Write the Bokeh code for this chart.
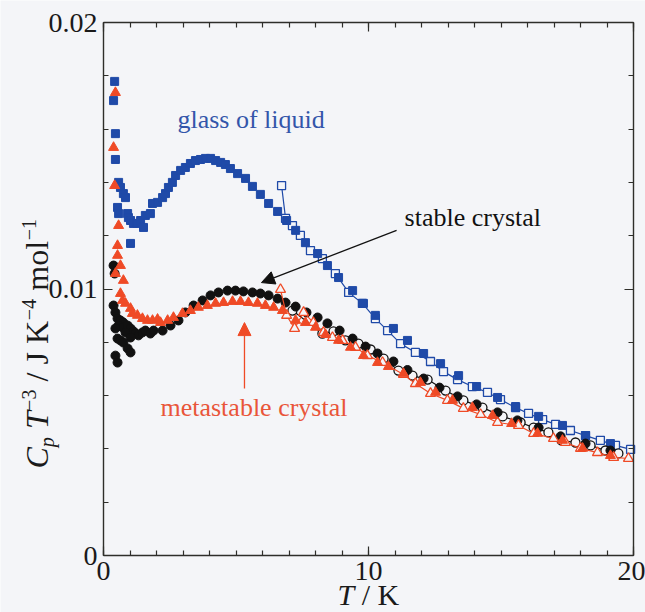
import math
from bokeh.plotting import figure
from bokeh.models import (Range1d, FixedTicker, LinearAxis, Label, Arrow, NormalHead,
                          CustomJSTickFormatter)
from bokeh.embed import file_html
from bokeh.resources import INLINE

# ---------------- data ----------------
glass_filled_T = [0.42, 0.38, 0.45, 0.45, 0.57, 0.64, 0.75, 0.83, 0.53, 0.57,
                  0.91, 0.94, 1.02, 1.13, 1.28, 1.40, 1.51, 1.02, 1.58, 1.77,
                  1.85, 2.04, 2.23, 2.34, 2.45, 2.60, 2.72, 2.91, 3.09, 3.28,
                  3.47, 3.66, 3.85, 4.04, 4.23, 4.42, 4.60, 4.79, 5.06, 5.36,
                  5.62, 5.92, 6.23, 6.57, 6.91, 7.25, 7.62, 8.08, 8.45, 8.87,
                  9.40, 9.81, 10.26, 10.94, 11.47, 12.08, 12.72, 13.40, 14.08, 14.87,
                  15.55, 16.42, 17.32, 18.19, 19.13]
glass_filled_C = [0.01779, 0.01707, 0.01583, 0.01486, 0.01400, 0.01381, 0.01358, 0.01343, 0.01306, 0.01283,
                  0.01283, 0.01268, 0.01257, 0.01246, 0.01246, 0.01257, 0.01231, 0.01171, 0.01276, 0.01283,
                  0.01321, 0.01325, 0.01343, 0.01358, 0.01381, 0.01400, 0.01426, 0.01445, 0.01456, 0.01471,
                  0.01482, 0.01486, 0.01490, 0.01490, 0.01482, 0.01475, 0.01467, 0.01452, 0.01433, 0.01415,
                  0.01385, 0.01355, 0.01321, 0.01291, 0.01257, 0.01220, 0.01174, 0.01133, 0.01088, 0.01043,
                  0.00994, 0.00946, 0.00901, 0.00852, 0.00807, 0.00758, 0.00720, 0.00675, 0.00634, 0.00593,
                  0.00559, 0.00522, 0.00488, 0.00450, 0.00420]

glass_open_T = [6.72, 6.87, 7.13, 7.43, 7.81, 8.26, 8.75, 9.25, 9.77, 10.26,
                10.72, 11.21, 11.77, 12.34, 12.83, 13.36, 13.92, 14.49, 14.98, 15.55,
                16.04, 16.57, 17.06, 17.62, 18.19, 18.75, 19.32, 19.89]
glass_open_C = [0.01388, 0.01265, 0.01238, 0.01201, 0.01144, 0.01114, 0.01058, 0.00987, 0.00946, 0.00889,
                0.00844, 0.00795, 0.00762, 0.00728, 0.00690, 0.00660, 0.00634, 0.00612, 0.00585, 0.00555,
                0.00533, 0.00510, 0.00492, 0.00469, 0.00450, 0.00432, 0.00413, 0.00398]

stable_filled_T = [0.38, 0.42, 0.38, 0.45, 0.53, 0.64, 0.75, 0.57, 0.72, 0.91,
                   1.02, 1.13, 1.21, 1.32, 1.47, 1.58, 1.77, 1.89, 0.45, 0.83,
                   1.02, 0.53, 0.64, 0.75, 0.91, 1.02, 0.45, 0.53,
                   2.23, 2.53, 2.83, 3.09, 3.40, 3.74, 4.04, 4.34, 4.68, 4.98,
                   5.28, 5.62, 5.92, 6.23, 6.57, 6.87, 7.25, 7.66, 8.08, 8.45,
                   8.91, 9.40, 9.89, 10.34, 10.94, 11.47, 12.08, 12.68, 13.36, 14.08,
                   14.87, 15.62, 16.42, 17.25, 18.19, 19.13]
stable_filled_C = [0.01088, 0.01058, 0.00938, 0.00912, 0.00889, 0.00882, 0.00874, 0.00863, 0.00856, 0.00863,
                   0.00852, 0.00841, 0.00833, 0.00826, 0.00837, 0.00844, 0.00833, 0.00844, 0.00852, 0.00837,
                   0.00818, 0.00814, 0.00807, 0.00799, 0.00777, 0.00762, 0.00750, 0.00724,
                   0.00844, 0.00863, 0.00882, 0.00912, 0.00938, 0.00957, 0.00976, 0.00987, 0.00994, 0.00994,
                   0.00991, 0.00987, 0.00983, 0.00976, 0.00964, 0.00949, 0.00934, 0.00912, 0.00893, 0.00871,
                   0.00844, 0.00814, 0.00784, 0.00758, 0.00728, 0.00696, 0.00664, 0.00630, 0.00597, 0.00567,
                   0.00537, 0.00507, 0.00480, 0.00447, 0.00420, 0.00394]

stable_open_T = [7.13, 8.26, 8.68, 9.13, 9.62, 10.08, 10.57, 11.13, 11.66, 12.23,
                 12.91, 13.58, 14.30, 15.06, 15.74, 16.23, 16.79, 17.28, 17.81, 18.38,
                 18.94, 19.43]
stable_open_C = [0.00919, 0.00833, 0.00841, 0.00807, 0.00795, 0.00773, 0.00739, 0.00694, 0.00675, 0.00660,
                 0.00619, 0.00582, 0.00555, 0.00522, 0.00499, 0.00480, 0.00462, 0.00432, 0.00424, 0.00413,
                 0.00394, 0.00383]

meta_filled_T = [0.45, 0.38, 0.42, 0.57, 0.53, 0.53, 0.64, 0.45, 0.75, 0.64,
                 0.72, 0.83, 1.02, 1.09, 1.28, 1.47, 1.66, 1.85, 2.04, 2.15,
                 2.42, 2.64, 2.98, 3.28, 3.58, 3.92, 4.23, 4.53, 4.87, 5.17,
                 5.47, 5.81, 6.11, 6.42, 6.75, 7.25, 7.62, 8.00, 8.38, 8.87,
                 9.32, 9.81, 10.34, 10.75, 11.32, 11.96, 12.53, 13.17, 13.92, 14.68,
                 15.40, 16.38, 17.32, 18.08, 19.13]
meta_filled_C = [0.01737, 0.01531, 0.01388, 0.01238, 0.01163, 0.01126, 0.01088, 0.01058, 0.01032, 0.00983,
                 0.00957, 0.00946, 0.00927, 0.00908, 0.00901, 0.00889, 0.00882, 0.00882, 0.00886, 0.00874,
                 0.00882, 0.00893, 0.00908, 0.00919, 0.00931, 0.00938, 0.00946, 0.00949, 0.00953, 0.00953,
                 0.00949, 0.00946, 0.00938, 0.00931, 0.00919, 0.00882, 0.00874, 0.00856, 0.00829, 0.00807,
                 0.00781, 0.00750, 0.00724, 0.00709, 0.00683, 0.00649, 0.00612, 0.00582, 0.00555, 0.00525,
                 0.00495, 0.00458, 0.00432, 0.00402, 0.00375]

meta_open_T = [6.68, 6.91, 7.21, 7.55, 7.92, 8.30, 8.64, 9.02, 9.51, 9.96,
               10.53, 11.32, 11.77, 12.34, 12.98, 13.58, 14.23, 14.87, 15.66, 16.23,
               16.98, 17.43, 18.00, 18.64, 19.25, 19.81]
meta_open_C = [0.00998, 0.00901, 0.00852, 0.00912, 0.00874, 0.00837, 0.00818, 0.00807, 0.00781, 0.00750,
               0.00724, 0.00679, 0.00645, 0.00608, 0.00582, 0.00552, 0.00529, 0.00499, 0.00488, 0.00458,
               0.00439, 0.00424, 0.00402, 0.00386, 0.00368, 0.00364]

X_MIN, X_MAX = 0, 20
Y_MIN, Y_MAX = 0.0, 0.02
x_major = [0, 10, 20]
x_minor = list(range(0, 21))
y_major = [0, 0.01, 0.02]
y_minor = [0.002 * i for i in range(11)]

# ---------------- layout / styling ----------------
BG = "#f4f5f8"
BLUE = "#1f4aa8"
BLUE_TXT = "#3355aa"
RED = "#ef4a26"
RED_TXT = "#e9553a"
BLACK = "#111111"
AX = "#2e2e2a"
TXT = "#1a1a1a"
SERIF = "Liberation Serif"

W, H = 645, 612                       # canvas size
FL, FR, FT, FB = 103, 633, 22, 555    # canvas px of the axes box
sx = (FR - FL) / (X_MAX - X_MIN)
sy = (FB - FT) / (Y_MAX - Y_MIN)
BFIX = 0.33                           # measured anchor-to-baseline shift (em)

def px2x(cx):
    return X_MIN + (cx - FL) / sx

def px2y(cy):
    return Y_MIN + (FB - cy) / sy

p = figure(width=W, height=H,
           x_range=Range1d(px2x(0), px2x(W)), y_range=Range1d(px2y(H), px2y(0)),
           output_backend="svg", toolbar_location=None,
           min_border=0, min_border_left=0, min_border_right=0, min_border_top=0, min_border_bottom=0,
           background_fill_color=BG, border_fill_color=BG)
p.outline_line_color = None
p.xgrid.visible = False
p.ygrid.visible = False

blank = CustomJSTickFormatter(code="return '';")
yfmt = CustomJSTickFormatter(code="return tick == 0 ? '0' : tick.toFixed(2);")

def style_axis(ax):
    ax.axis_line_color = AX
    ax.axis_line_width = 1.4
    ax.major_tick_line_color = AX
    ax.minor_tick_line_color = AX
    ax.major_tick_in = 9
    ax.major_tick_out = 0
    ax.minor_tick_in = 5
    ax.minor_tick_out = 0
    ax.major_tick_line_width = 1.2
    ax.minor_tick_line_width = 1.2
    ax.major_label_text_font = SERIF
    ax.major_label_text_font_size = "28px"
    ax.major_label_text_color = TXT
    ax.major_label_standoff = 6

xb = p.xaxis[0]
xb.ticker = FixedTicker(ticks=x_major, minor_ticks=x_minor)
xb.fixed_location = Y_MIN
xb.bounds = (X_MIN, X_MAX)
style_axis(xb)

yl = p.yaxis[0]
yl.ticker = FixedTicker(ticks=y_major, minor_ticks=y_minor)
yl.formatter = yfmt
yl.fixed_location = X_MIN
yl.bounds = (Y_MIN, Y_MAX)
style_axis(yl)

xt = LinearAxis(ticker=FixedTicker(ticks=x_major, minor_ticks=x_minor), formatter=blank,
                fixed_location=Y_MAX, bounds=(X_MIN, X_MAX))
style_axis(xt)
p.add_layout(xt, "above")
yr = LinearAxis(ticker=FixedTicker(ticks=y_major, minor_ticks=y_minor), formatter=blank,
                fixed_location=X_MAX, bounds=(Y_MIN, Y_MAX))
style_axis(yr)
p.add_layout(yr, "right")

# ---------------- series ----------------
p.line(glass_open_T, glass_open_C, line_color=BLUE, line_width=1.2)
p.scatter(glass_open_T, glass_open_C, marker="square", size=8, line_color=BLUE, line_width=1.3, fill_color=BG)
p.scatter(glass_filled_T, glass_filled_C, marker="square", size=8, line_color=BLUE, fill_color=BLUE)

p.line(stable_open_T, stable_open_C, line_color=BLACK, line_width=1.2)
p.scatter(stable_open_T, stable_open_C, marker="circle", size=9, line_color=BLACK, line_width=1.3, fill_color=BG)
p.scatter(stable_filled_T, stable_filled_C, marker="circle", size=9, line_color=BLACK, fill_color=BLACK)

p.line(meta_open_T, meta_open_C, line_color=RED, line_width=1.2)
p.scatter(meta_open_T, meta_open_C, marker="triangle", size=10, line_color=RED, line_width=1.3, fill_color=BG)
p.scatter(meta_filled_T, meta_filled_C, marker="triangle", size=10, line_color=RED, fill_color=RED)

# ---------------- annotations ----------------
ANN = 26
ann_dy = BFIX * ANN / sy
p.add_layout(Label(x=2.79, y=0.01602 + ann_dy, text="glass of liquid", text_font=SERIF,
                   text_font_size=f"{ANN}px", text_color=BLUE_TXT, text_baseline="alphabetic"))
p.add_layout(Label(x=11.36, y=0.01235 + ann_dy, text="stable crystal", text_font=SERIF,
                   text_font_size=f"{ANN}px", text_color=BLACK, text_baseline="alphabetic"))
p.add_layout(Label(x=2.15, y=0.00525 + ann_dy, text="metastable crystal", text_font=SERIF,
                   text_font_size=f"{ANN}px", text_color=RED_TXT, text_baseline="alphabetic"))

p.add_layout(Arrow(end=NormalHead(size=13, fill_color=BLACK, line_color=BLACK),
                   x_start=11.06, y_start=0.01220, x_end=5.96, y_end=0.01024,
                   line_color=BLACK, line_width=1.3))
p.add_layout(Arrow(end=NormalHead(size=13, fill_color=RED, line_color=RED),
                   x_start=5.32, y_start=0.00627, x_end=5.32, y_end=0.00874,
                   line_color=RED, line_width=1.3))

# axis titles composed of pieces (canvas pixel positions of the baselines)
YL_BASE_X = 47      # baseline of the vertical title
YL_START_Y = 468    # where "C" begins (canvas px from top)
ypieces = [("C", 0, 0, 32, "italic"),
           ("p", 21.3, -6, 20, "italic"),
           ("T", 39.5, 0, 32, "italic"),
           ("\u22123", 57.6, 12, 20, "normal"),
           ("/ J K", 87.1, 0, 32, "normal"),
           ("\u22124", 148.3, 12, 20, "normal"),
           ("mol", 177.8, 0, 32, "normal"),
           ("\u22121", 228.3, 12, 20, "normal")]
for txt, along, perp, size, style in ypieces:
    ax_px = YL_BASE_X - perp - BFIX * size
    p.add_layout(Label(x=px2x(ax_px), y=px2y(YL_START_Y - along), text=txt,
                       angle=math.pi / 2, text_font=SERIF, text_font_size=f"{size}px",
                       text_font_style=style, text_color=TXT, text_baseline="alphabetic",
                       text_align="left"))

XL_BASE_Y = 604
XL_SIZE = 30
xpieces = [("T", 337, "italic"), ("/ K", 361.2, "normal")]
for txt, cx, style in xpieces:
    p.add_layout(Label(x=px2x(cx), y=px2y(XL_BASE_Y - BFIX * XL_SIZE), text=txt, text_font=SERIF,
                       text_font_size=f"{XL_SIZE}px", text_font_style=style, text_color=TXT,
                       text_baseline="alphabetic", text_align="left"))

open("out.html", "w").write(file_html(p, INLINE))
